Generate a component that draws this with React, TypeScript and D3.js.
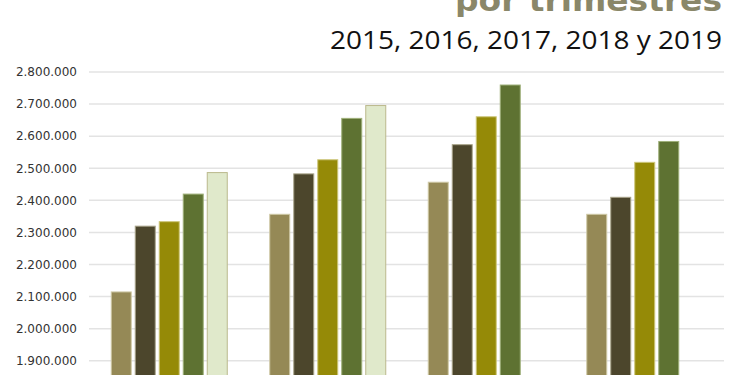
import React from "react";
import * as d3 from "d3";

const quarters = ["1er trimestre", "2º trimestre", "3er trimestre", "4º trimestre"];
const years = ["2015", "2016", "2017", "2018", "2019"];
const v2015 = [2116000, 2358000, 2458000, 2358000];
const v2016 = [2321000, 2484000, 2575000, 2411000];
const v2017 = [2335000, 2528000, 2662000, 2520000];
const v2018 = [2421000, 2657000, 2761000, 2585000];
const v2019: (number | null)[] = [2488000, 2697000, null, null];
const series = [v2015, v2016, v2017, v2018, v2019];
const yTicks = [1900000, 2000000, 2100000, 2200000, 2300000, 2400000, 2500000, 2600000, 2700000, 2800000];
const colors = ["#958956", "#4c462c", "#958a07", "#5e7232", "#e0e9cb"];
const strokes = ["#cfc9a6", "#a9a58a", "#cdc67a", "#9fb07a", "#bbb98c"];

const fmt = (v: number) => d3.format(",")(v).replace(/,/g, ".");

export default function App() {
  const W = 750, H = 375;
  const y = d3.scaleLinear().domain([1800000, 2800000]).range([392.8, 72]);
  const x0 = d3.scaleBand<string>().domain(quarters).range([90, 724]).padding(0);
  const x1 = d3.scaleBand<string>().domain(years).range([0, 117]).paddingInner(0.125).paddingOuter(0);
  return (
    <div style={{ position: "fixed", left: 0, top: 0, width: W, height: H, background: "#fff" }}>
      <svg width={W} height={H} style={{ display: "block" }}>
        <text x={722} y={11} textAnchor="end" fontFamily="DejaVu Sans" fontWeight="bold" fontSize={30}
          fill="#8a8769" textLength={267} lengthAdjust="spacingAndGlyphs">por trimestres</text>
        <text x={722} y={48.5} textAnchor="end" fontFamily="Open Sans" fontSize={26}
          fill="#111" textLength={392} lengthAdjust="spacingAndGlyphs">2015, 2016, 2017, 2018 y 2019</text>
        {yTicks.map((t) => (
          <g key={t}>
            <line x1={89} x2={724} y1={y(t)} y2={y(t)} stroke="#e3e3e3" strokeWidth={1.5} />
            <text x={77} y={y(t) + 4.3} textAnchor="end" fontFamily="DejaVu Sans" fontSize={12} fill="#333">
              {fmt(t)}
            </text>
          </g>
        ))}
        {quarters.map((q, qi) => {
          const cx = (x0(q) as number) + x0.bandwidth() / 2 - 58.5;
          return (
            <g key={q}>
              {series.map((s, si) => {
                const v = s[qi];
                if (v == null) return null;
                const bx = cx + (x1(years[si]) as number);
                return (
                  <rect key={si} x={bx + 0.5} y={y(v) + 0.5} width={x1.bandwidth() - 1} height={H + 40 - y(v)}
                    fill={colors[si]} stroke={strokes[si]} strokeWidth={1} />
                );
              })}
            </g>
          );
        })}
      </svg>
    </div>
  );
}
